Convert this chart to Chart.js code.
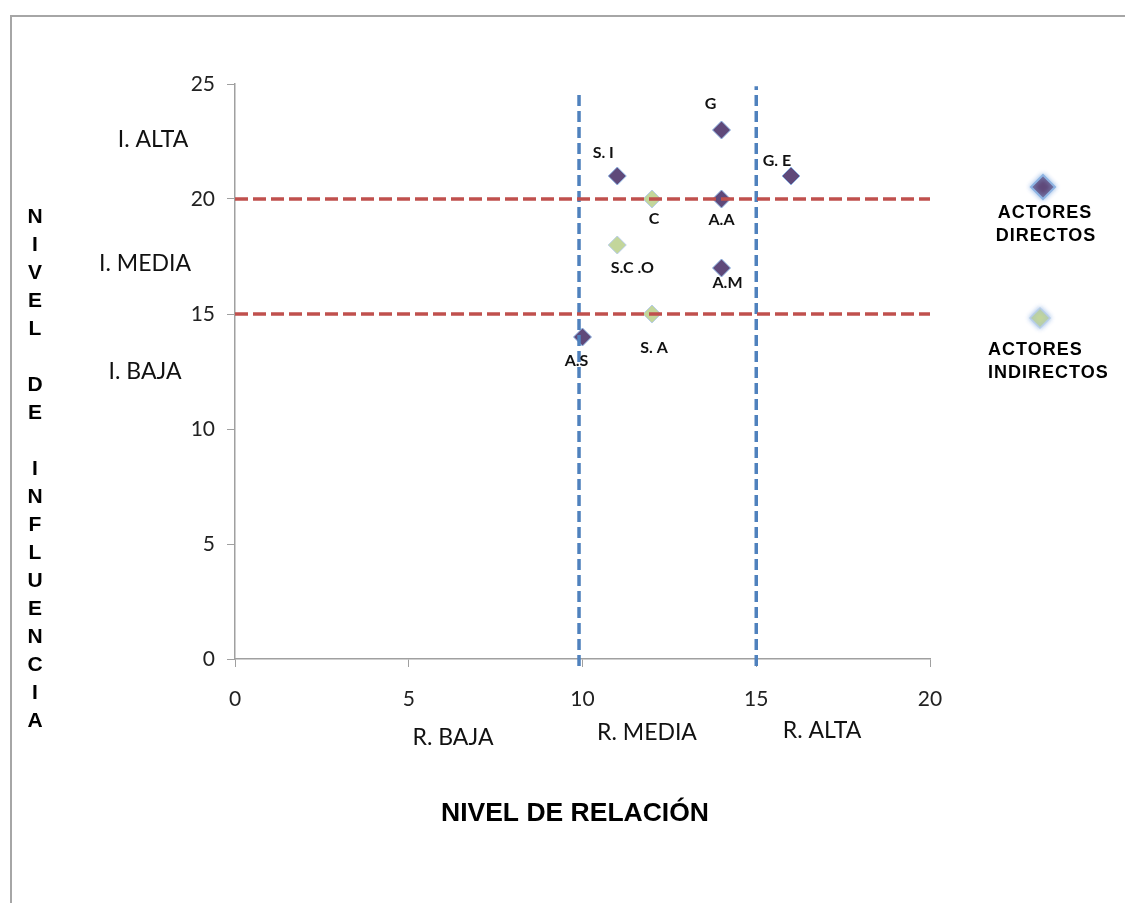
<!DOCTYPE html>
<html>
<head>
<meta charset="utf-8">
<script src="https://cdn.jsdelivr.net/npm/chart.js@4.4.1/dist/chart.umd.min.js"></script>
<style>
  html, body { margin: 0; background: #fff; }
  canvas { display: block; }
</style>
</head>
<body>
<canvas id="chart" width="1125" height="903"></canvas>
<script>
// actores directos
const directNames = ['G', 'S. I', 'G. E', 'A.A', 'A.M', 'A.S'];
const directX = [14, 11, 16, 14, 14, 10];
const directY = [23, 21, 21, 20, 17, 14];

// actores indirectos
const indirectNames = ['C', 'S.C .O', 'S. A'];
const indirectX = [12, 11, 12];
const indirectY = [20, 18, 15];

// dashed limits between levels
const influenceLimits = [20, 15];      // red, horizontal
const relationLimits = [9.9, 15];      // blue, vertical
const relationTops = [24.6, 24.9];

// label offsets (px) for each point name
const directOffsets = [[-11, -26], [-14, -23], [-14, -15], [0, 21], [6, 15], [-6, 24]];
const indirectOffsets = [[2, 20], [15, 23], [2, 34]];

const axisGray = '#a0a0a0';
const tickFont = { family: 'Lato', size: 21 };

const toPts = (xs, ys) => xs.map((x, i) => ({ x, y: ys[i] }));

const lineSets = [];
influenceLimits.forEach(v => lineSets.push({
  type: 'line', data: [{ x: 0, y: v }, { x: 20, y: v }],
  borderColor: '#c0504d', borderWidth: 3.5, borderDash: [13, 5],
  pointRadius: 0, fill: false, clip: false
}));
relationLimits.forEach((v, i) => lineSets.push({
  type: 'line', data: [{ x: v, y: -0.3 }, { x: v, y: relationTops[i] }],
  borderColor: '#4f81bd', borderWidth: 3.5, borderDash: [11, 5],
  pointRadius: 0, fill: false, clip: false
}));

function diamond(ctx, x, y, r, fill, stroke, lw) {
  ctx.beginPath();
  ctx.moveTo(x, y - r); ctx.lineTo(x + r, y); ctx.lineTo(x, y + r); ctx.lineTo(x - r, y);
  ctx.closePath();
  ctx.fillStyle = fill; ctx.fill();
  ctx.lineWidth = lw; ctx.strokeStyle = stroke; ctx.stroke();
}

const decor = {
  id: 'decor',
  afterDatasetsDraw(chart) {
    const ctx = chart.ctx;
    ctx.save();
    // point names
    ctx.font = 'bold 16px Lato';
    ctx.fillStyle = '#111';
    ctx.textAlign = 'center';
    ctx.textBaseline = 'middle';
    const n = lineSets.length;
    [[n, directNames, directOffsets], [n + 1, indirectNames, indirectOffsets]].forEach(([di, names, offs]) => {
      chart.getDatasetMeta(di).data.forEach((p, i) => {
        ctx.fillText(names[i], p.x + offs[i][0], p.y + offs[i][1]);
      });
    });
    ctx.restore();
  },
  afterDraw(chart) {
    const ctx = chart.ctx;
    ctx.save();
    // frame
    ctx.strokeStyle = '#a6a6a6';
    ctx.lineWidth = 2;
    ctx.beginPath();
    ctx.moveTo(11, 903); ctx.lineTo(11, 16); ctx.lineTo(1125, 16);
    ctx.stroke();

    ctx.fillStyle = '#111';
    ctx.textBaseline = 'middle';
    ctx.textAlign = 'center';
    // level labels
    ctx.font = '23px Lato';
    ctx.fillText('I. ALTA', 153, 140);
    ctx.fillText('I. MEDIA', 145, 264);
    ctx.fillText('I. BAJA', 145, 372);
    ctx.fillText('R. BAJA', 453, 738);
    ctx.fillText('R. MEDIA', 647, 733);
    ctx.fillText('R. ALTA', 822, 731);

    // axis titles
    ctx.fillStyle = '#000';
    ctx.font = 'bold 26.5px "Liberation Sans"';
    ctx.fillText('NIVEL DE RELACIÓN', 575, 814);
    ctx.font = 'bold 21px "Liberation Sans"';
    'NIVEL DE INFLUENCIA'.split('').forEach((c, i) => {
      if (c !== ' ') ctx.fillText(c, 35, 217 + i * 28);
    });

    // legend
    ctx.shadowColor = 'rgba(142,180,227,0.9)';
    ctx.shadowBlur = 5;
    diamond(ctx, 1043, 187, 12, '#5f497a', '#8eb4e3', 2);
    diamond(ctx, 1040, 318, 10, '#c3d69b', '#b7cde8', 1.5);
    ctx.shadowBlur = 0;
    ctx.fillStyle = '#000';
    ctx.font = 'bold 18px "Liberation Sans"';
    ctx.letterSpacing = '1px';
    ctx.fillText('ACTORES', 1045, 213);
    ctx.fillText('DIRECTOS', 1046, 236);
    ctx.textAlign = 'left';
    ctx.fillText('ACTORES', 988, 350);
    ctx.fillText('INDIRECTOS', 988, 373);
    ctx.restore();
  }
};

new Chart(document.getElementById('chart'), {
  type: 'scatter',
  data: {
    datasets: [
      ...lineSets,
      {
        label: 'ACTORES DIRECTOS', data: toPts(directX, directY),
        pointStyle: 'rectRot', pointRadius: 9, pointHoverRadius: 9,
        backgroundColor: '#5f497a', borderColor: '#8eb4e3', borderWidth: 1
      },
      {
        label: 'ACTORES INDIRECTOS', data: toPts(indirectX, indirectY),
        pointStyle: 'rectRot', pointRadius: 9, pointHoverRadius: 9,
        backgroundColor: '#c3d69b', borderColor: '#b7cde8', borderWidth: 1
      }
    ]
  },
  options: {
    responsive: false,
    animation: false,
    events: [],
    layout: { padding: { left: 175, right: 195, top: 84, bottom: 194 } },
    plugins: { legend: { display: false }, tooltip: { enabled: false } },
    scales: {
      x: {
        type: 'linear', min: 0, max: 20,
        ticks: { stepSize: 5, color: '#222', font: tickFont, padding: 20 },
        grid: { drawOnChartArea: false, tickLength: 8, color: axisGray },
        border: { color: axisGray, width: 1.5 },
        afterFit: s => { s.height = 50; }
      },
      y: {
        type: 'linear', min: 0, max: 25,
        ticks: { stepSize: 5, color: '#222', font: tickFont, padding: 12 },
        grid: { drawOnChartArea: false, tickLength: 8, color: axisGray },
        border: { color: axisGray, width: 1.5 },
        afterFit: s => { s.width = 60; }
      }
    }
  },
  plugins: [decor]
});
</script>
</body>
</html>
